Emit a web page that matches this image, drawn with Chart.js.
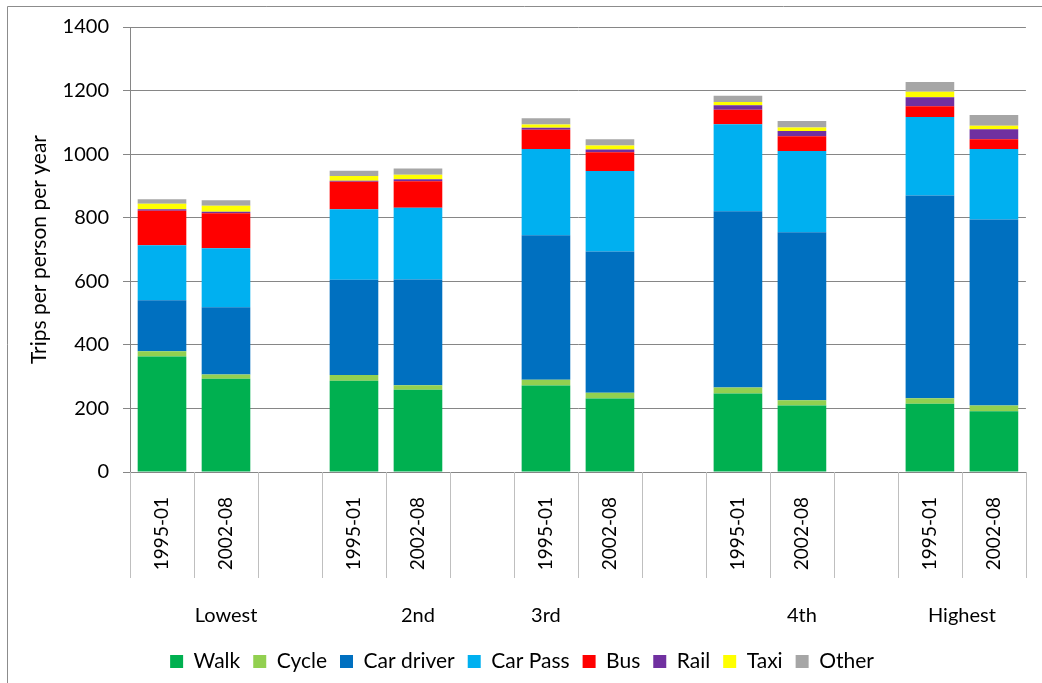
<!DOCTYPE html>
<html>
<head>
<meta charset="utf-8">
<title>Trips per person per year by income quintile</title>
<script src="https://cdn.jsdelivr.net/npm/chart.js@4"></script>
<style>
  html, body { margin: 0; padding: 0; background: #fff; }
  #wrap { width: 1042px; height: 683px; position: relative; }
</style>
</head>
<body>
<div id="wrap"><canvas id="grafico" width="1042" height="683"></canvas></div>
<script>
// periodos (slots vazios separam os quintis)
const periodos = ["1995-01", "2002-08", "", "1995-01", "2002-08", "", "1995-01", "2002-08", "", "1995-01", "2002-08", "", "1995-01", "2002-08"];

// quintis de renda e onde o nome fica no eixo (indice do slot)
const quintis = ["Lowest", "2nd", "3rd", "4th", "Highest"];
const posQuintis = [1, 4, 6, 10, 12.5];

// viagens por pessoa por ano, por modo
const walk      = [363, 293, null, 287, 259, null, 272, 231, null, 247, 209, null, 215, 191];
const cycle     = [17, 14, null, 18, 14, null, 18, 18, null, 19, 17, null, 17, 18];
const carDriver = [160, 211, null, 300, 333, null, 455, 445, null, 554, 528, null, 638, 585];
const carPass   = [173, 186, null, 222, 225, null, 271, 253, null, 274, 256, null, 247, 222];
const bus       = [109, 110, null, 86, 84, null, 61, 59, null, 46, 46, null, 34, 31];
const rail      = [5, 5, null, 3, 6, null, 6, 9, null, 14, 17, null, 28, 31];
const taxi      = [17, 19, null, 15, 14, null, 10, 12, null, 10, 11, null, 17, 11];
const other     = [14, 17, null, 17, 20, null, 20, 20, null, 20, 20, null, 31, 34];

const yTicks = [0, 200, 400, 600, 800, 1000, 1200, 1400];

const fonte = "Lato, 'DejaVu Sans', sans-serif";

function serie(nome, valores, cor) {
  return {
    label: nome,
    data: valores,
    backgroundColor: cor,
    borderWidth: 0,
    barPercentage: 0.76,
    categoryPercentage: 1.0
  };
}

// linhas divisorias abaixo do eixo x, nomes dos quintis e moldura
const extrasEixo = {
  id: "extrasEixo",
  beforeDraw(chart) {
    const ctx = chart.ctx;
    ctx.save();
    ctx.strokeStyle = "#8c8c8c";
    ctx.lineWidth = 1;
    ctx.beginPath();
    ctx.moveTo(7.5, chart.height);
    ctx.lineTo(7.5, 6.5);
    ctx.lineTo(chart.width, 6.5);
    ctx.stroke();
    ctx.restore();
  },
  afterDraw(chart) {
    const ctx = chart.ctx;
    const x = chart.scales.x;
    ctx.save();
    ctx.strokeStyle = "#bfbfbf";
    ctx.lineWidth = 1;
    for (let i = 0; i <= periodos.length; i++) {
      const px = Math.round(x.getPixelForValue(i - 0.5)) + 0.5;
      ctx.beginPath();
      ctx.moveTo(px, x.top);
      ctx.lineTo(px, x.top + 106);
      ctx.stroke();
    }
    ctx.fillStyle = "#000";
    ctx.font = "20px " + fonte;
    ctx.textAlign = "center";
    ctx.textBaseline = "middle";
    quintis.forEach((q, i) => {
      ctx.fillText(q, x.getPixelForValue(posQuintis[i]), x.top + 144);
    });
    ctx.restore();
  }
};

new Chart(document.getElementById("grafico").getContext("2d"), {
  type: "bar",
  data: {
    labels: periodos,
    datasets: [
      serie("Walk", walk, "#00B050"),
      serie("Cycle", cycle, "#92D050"),
      serie("Car driver", carDriver, "#0070C0"),
      serie("Car Pass", carPass, "#00B0F0"),
      serie("Bus", bus, "#FF0000"),
      serie("Rail", rail, "#7030A0"),
      serie("Taxi", taxi, "#FFFF00"),
      serie("Other", other, "#A6A6A6")
    ]
  },
  options: {
    responsive: false,
    animation: false,
    layout: { padding: { left: 10, right: 8, top: 27, bottom: 1 } },
    plugins: {
      tooltip: { enabled: false },
      legend: {
        position: "bottom",
        labels: {
          boxWidth: 13,
          boxHeight: 13,
          padding: 13,
          color: "#000",
          font: { family: fonte, size: 21 }
        }
      }
    },
    scales: {
      x: {
        stacked: true,
        offset: true,
        grid: { display: true, drawOnChartArea: false, drawTicks: false, color: "#bfbfbf" },
        border: { display: true, color: "#868686" },
        ticks: {
          autoSkip: false,
          minRotation: 90,
          maxRotation: 90,
          padding: 25,
          color: "#000",
          font: { family: fonte, size: 19 }
        },
        afterFit(scale) { scale.height = 166; }
      },
      y: {
        stacked: true,
        min: 0,
        max: 1400,
        afterBuildTicks(scale) { scale.ticks = yTicks.map(v => ({ value: v })); },
        grid: { color: "#868686", tickLength: 7 },
        border: { display: true, color: "#868686" },
        ticks: {
          padding: 14,
          color: "#000",
          font: { family: fonte, size: 20 },
          callback: v => String(v)
        },
        title: {
          display: true,
          text: "Trips per person per year",
          color: "#000",
          font: { family: fonte, size: 21 },
          padding: { top: 17, bottom: 0 }
        },
        afterFit(scale) { scale.width = 120; }
      }
    }
  },
  plugins: [extrasEixo]
});
</script>
</body>
</html>
